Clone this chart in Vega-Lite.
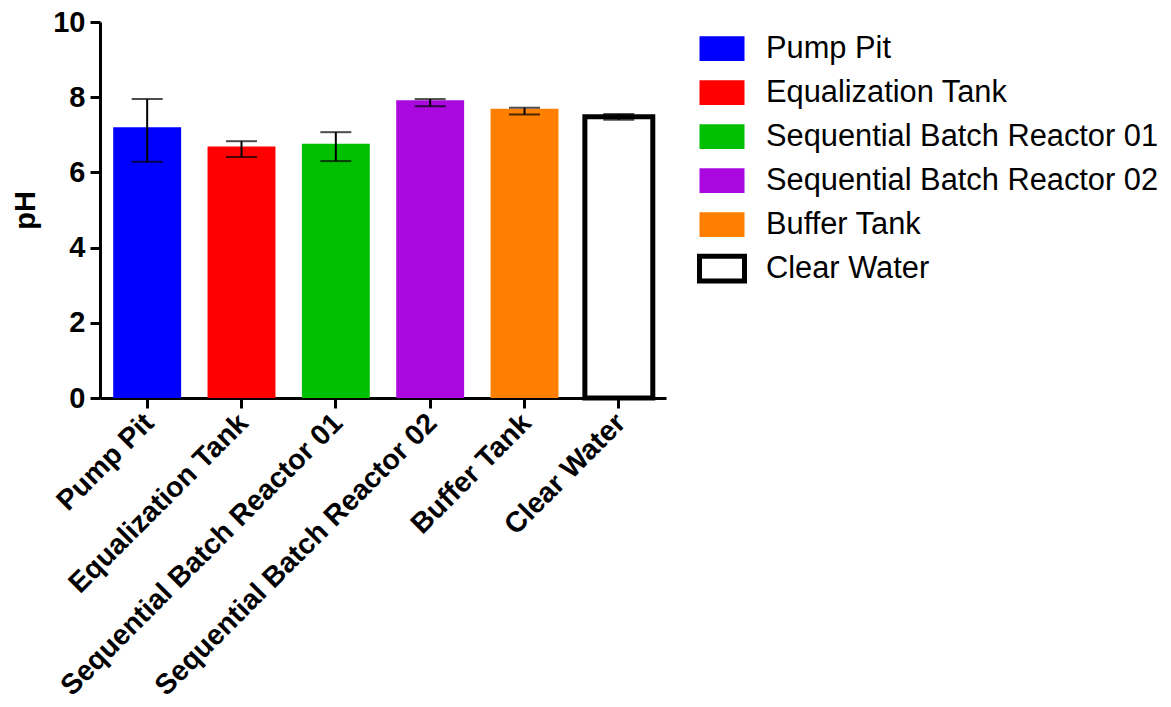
{
  "$schema": "https://vega.github.io/schema/vega-lite/v6.json",
  "width": 566,
  "height": 376,
  "autosize": "none",
  "padding": {"left": 100, "top": 22, "right": 505, "bottom": 309},
  "background": "white",
  "config": {"view": {"stroke": null}, "font": "Liberation Sans"},
  "data": {
    "values": [
      {"site": "Pump Pit", "ph": 7.2, "lo": 6.28, "hi": 7.95},
      {"site": "Equalization Tank", "ph": 6.69, "lo": 6.41, "hi": 6.83},
      {"site": "Sequential Batch Reactor 01", "ph": 6.76, "lo": 6.3, "hi": 7.07},
      {"site": "Sequential Batch Reactor 02", "ph": 7.92, "lo": 7.76, "hi": 7.95},
      {"site": "Buffer Tank", "ph": 7.69, "lo": 7.54, "hi": 7.72},
      {"site": "Clear Water", "ph": 7.48, "lo": 7.4, "hi": 7.55}
    ]
  },
  "encoding": {
    "x": {
      "field": "site",
      "type": "nominal",
      "sort": null,
      "scale": {"paddingInner": 0.28, "paddingOuter": 0.14},
      "axis": {
        "title": null,
        "domainColor": "black",
        "domainWidth": 3,
        "tickColor": "black",
        "tickWidth": 3,
        "tickSize": 10,
        "labelAngle": -45,
        "labelFontSize": 28.5,
        "labelFontWeight": "bold",
        "labelColor": "black",
        "labelPadding": 0,
        "labelOffset": -8,
        "labelLimit": 0
      }
    }
  },
  "layer": [
    {
      "mark": {"type": "bar", "strokeWidth": 5},
      "encoding": {
        "y": {
          "field": "ph",
          "type": "quantitative",
          "scale": {"domain": [0, 10]},
          "axis": {
            "title": "pH",
            "values": [0, 2, 4, 6, 8, 10],
            "grid": false,
            "domainColor": "black",
            "domainWidth": 3,
            "tickColor": "black",
            "tickWidth": 3,
            "tickSize": 10,
            "labelFontSize": 29,
            "labelFontWeight": "bold",
            "labelColor": "black",
            "labelPadding": 5,
            "titleFontSize": 29,
            "titleFontWeight": "bold",
            "titleColor": "black",
            "titlePadding": 12
          }
        },
        "fill": {
          "field": "site",
          "type": "nominal",
          "sort": null,
          "scale": {
            "domain": ["Pump Pit", "Equalization Tank", "Sequential Batch Reactor 01", "Sequential Batch Reactor 02", "Buffer Tank", "Clear Water"],
            "range": ["#0000FF", "#FF0000", "#00C000", "#AA08DE", "#FF8000", "#FFFFFF"]
          },
          "legend": {
            "title": null,
            "orient": "none",
            "legendX": 597,
            "legendY": 5,
            "symbolType": "M-1,-0.55H1V0.55H-1Z",
            "symbolSize": 2025,
            "symbolStrokeWidth": 5,
            "labelFontSize": 30.8,
            "labelColor": "black",
            "labelOffset": 19,
            "labelLimit": 0,
            "clipHeight": 43.3,
            "rowPadding": 0
          }
        },
        "stroke": {
          "field": "site",
          "type": "nominal",
          "sort": null,
          "scale": {
            "domain": ["Pump Pit", "Equalization Tank", "Sequential Batch Reactor 01", "Sequential Batch Reactor 02", "Buffer Tank", "Clear Water"],
            "range": ["transparent", "transparent", "transparent", "transparent", "transparent", "#000000"]
          },
          "legend": {
            "title": null,
            "orient": "none",
            "legendX": 597,
            "legendY": 5,
            "symbolType": "M-1,-0.55H1V0.55H-1Z",
            "symbolSize": 2025,
            "symbolStrokeWidth": 5,
            "labelFontSize": 30.8,
            "labelColor": "black",
            "labelOffset": 19,
            "labelLimit": 0,
            "clipHeight": 43.3,
            "rowPadding": 0
          }
        }
      }
    },
    {
      "mark": {"type": "rule", "strokeWidth": 2, "color": "black"},
      "encoding": {
        "y": {"field": "lo", "type": "quantitative"},
        "y2": {"field": "hi"}
      }
    },
    {
      "mark": {"type": "tick", "orient": "horizontal", "size": 31, "thickness": 2, "color": "black"},
      "encoding": {"y": {"field": "lo", "type": "quantitative"}}
    },
    {
      "mark": {"type": "tick", "orient": "horizontal", "size": 31, "thickness": 2, "color": "black"},
      "encoding": {"y": {"field": "hi", "type": "quantitative"}}
    }
  ]
}
